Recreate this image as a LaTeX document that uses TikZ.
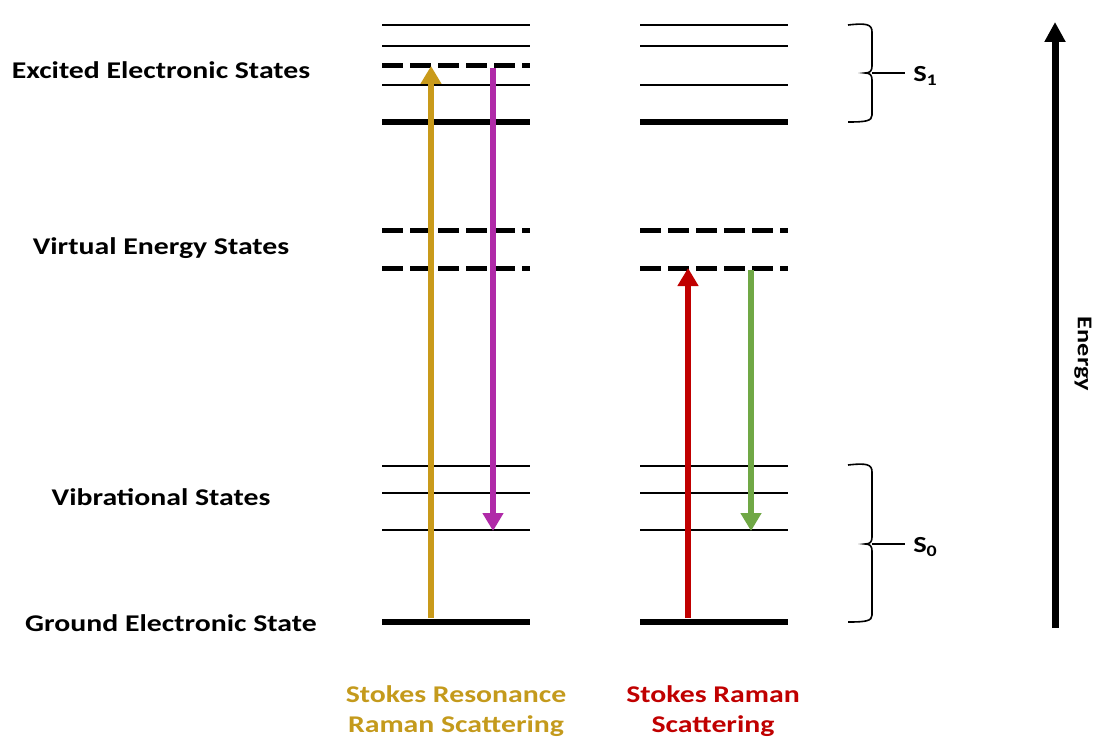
\documentclass[tikz,border=0pt]{standalone}
\usepackage{fontspec}
\setmainfont{Carlito}
\usetikzlibrary{arrows.meta}
\definecolor{goldc}{HTML}{C99A1A}
\definecolor{magc}{HTML}{B02AA8}
\definecolor{redc}{HTML}{C00000}
\definecolor{greenc}{HTML}{70A845}
\definecolor{goldtxt}{HTML}{C49A1C}
\tikzset{
  thinlvl/.style={line width=2pt},
  thicklvl/.style={line width=5.5pt},
  dashlvl/.style={line width=5pt, dash pattern=on 21pt off 7pt},
  transarrow/.style={line width=6.5pt, -{Triangle[width=20pt,length=18pt]}},
  lbl/.style={font=\fontsize{24}{28}\selectfont\bfseries, anchor=center, inner sep=0pt, xscale=1.24},
  slbl/.style={font=\fontsize{23}{26}\selectfont\bfseries, anchor=west, inner sep=0pt, xscale=1.24},
  botlbl/.style={font=\fontsize{24}{30}\selectfont\bfseries, align=center, inner sep=0pt, xscale=1.24},
  bracepath/.style={line width=1.6pt},
}
\begin{document}
\begin{tikzpicture}[x=1pt,y=-1pt]
\useasboundingbox (0,0) rectangle (1099,738);
% levels
\foreach \c/\xa/\xb in {L/382/530, R/640/788}{
  \draw[thinlvl] (\xa,25) -- (\xb,25);
  \draw[thinlvl] (\xa,46) -- (\xb,46);
  \draw[thinlvl] (\xa,85) -- (\xb,85);
  \draw[thicklvl] (\xa,122) -- (\xb,122);
  \draw[dashlvl] (\xa,230) -- (\xb,230);
  \draw[dashlvl] (\xa,268) -- (\xb,268);
  \draw[thinlvl] (\xa,466) -- (\xb,466);
  \draw[thinlvl] (\xa,493) -- (\xb,493);
  \draw[thinlvl] (\xa,530) -- (\xb,530);
  \draw[thicklvl] (\xa,622) -- (\xb,622);
}
\draw[dashlvl] (382,66) -- (530,66);

% transitions
\coordinate (ys) at (431,618);
\coordinate (ye) at (431,66);
\coordinate (ms) at (493,68);
\coordinate (me) at (493,531);
\coordinate (rs) at (688,618);
\coordinate (re) at (688,268);
\coordinate (gs) at (751,270);
\coordinate (ge) at (751,531);
\draw[transarrow, goldc] (ys) -- (ye);
\draw[transarrow, magc] (ms) -- (me);
\draw[transarrow, redc] (rs) -- (re);
\draw[transarrow, greenc] (gs) -- (ge);

% left labels
\node[lbl] (exc) at (161,70) {Excited Electronic States};
\node[lbl] (virt) at (161,248) {Virtual Energy States};
\node[lbl] (vib) at (161,497) {Vibrational States};
\node[lbl] (gnd) at (171,623) {Ground Electronic State};

% bottom labels
\node[botlbl, text=goldtxt] (srrs) at (456,711) {Stokes Resonance\\Raman Scattering};
\node[botlbl, text=redc] (srs) at (713,711) {Stokes Raman\\Scattering};

% braces
\draw[bracepath] (848,25) .. controls (866,23) and (872,24) .. (872,32) -- (872,66)
   .. controls (872,71) and (870,73) .. (865,73) .. controls (870,73) and (872,75) .. (872,80)
   -- (872,115) .. controls (872,121) and (866,122) .. (848,122);
\coordinate (b1) at (872,73);
\node[slbl] (s1) at (913,76) {S\textsubscript{1}};
\draw[bracepath] (b1) -- (905,73);

\draw[bracepath] (848,465) .. controls (866,463) and (872,464) .. (872,472) -- (872,537)
   .. controls (872,542) and (870,544) .. (865,544) .. controls (870,544) and (872,546) .. (872,551)
   -- (872,615) .. controls (872,621) and (866,622) .. (848,622);
\coordinate (b0) at (872,544);
\node[slbl] (s0) at (913,547) {S\textsubscript{0}};
\draw[bracepath] (b0) -- (905,544);

% energy axis
\coordinate (es) at (1055,628);
\coordinate (ee) at (1055,22);
\draw[line width=7pt, -{Triangle[width=20pt,length=20pt]}] (es) -- (ee);
\node[font=\fontsize{21}{24}\selectfont\bfseries, inner sep=0pt, rotate=-90, xscale=1.25] (energy) at (1083,354) {Energy};
\end{tikzpicture}
\end{document}
